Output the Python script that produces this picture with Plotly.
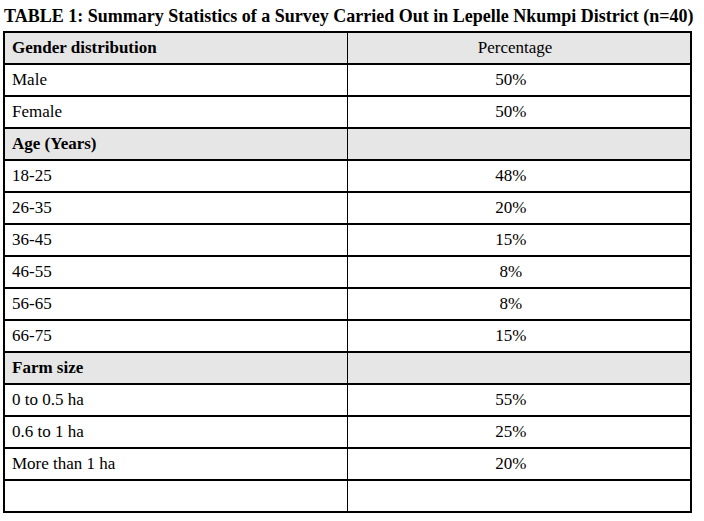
"""Survey summary table, Lepelle Nkumpi District."""

import plotly.graph_objects as go

TITLE = "TABLE 1: Summary Statistics of a Survey Carried Out in Lepelle Nkumpi District (n=40)"
HEADER = ["Gender distribution", "Percentage"]

# rows below the header; section rows have an empty percentage
row_labels = [
    "Male", "Female",
    "Age (Years)",
    "18-25", "26-35", "36-45", "46-55", "56-65", "66-75",
    "Farm size",
    "0 to 0.5 ha", "0.6 to 1 ha", "More than 1 ha",
    "",
]
row_values = [
    "50%", "50%",
    "",
    "48%", "20%", "15%", "8%", "8%", "15%",
    "",
    "55%", "25%", "20%",
    "",
]
section_rows = ["Age (Years)", "Farm size"]

GRAY = "#e6e6e6"
CLEAR = "rgba(0,0,0,0)"
FONT = "Liberation Serif"
W, H = 704, 521
DOMAIN = dict(x=[4 / W, 692 / W], y=[0, 1 - 32 / H])

# the percentages sit a little left of the column centre in the original
pad = "\u00a0" * 4
values_fmt = [v + pad if v else v for v in row_values]
fills = [GRAY if s in section_rows else "white" for s in row_labels]

# bold text is drawn by a second, transparent table on top: markup tags
# would make plotly grow those rows, and font weight is only per column
plain_labels = ["" if s in section_rows else s for s in row_labels]
bold_labels = [s if s in section_rows else "" for s in row_labels]
blank = [""] * len(row_labels)

fig = go.Figure()
fig.add_trace(
    go.Table(
        domain=DOMAIN,
        columnwidth=[344, 344],
        header=dict(
            values=["", HEADER[1] + "\u00a0\u00a0"],
            fill_color=GRAY,
            line=dict(color="black", width=1.3),
            align=["left", "center"],
            font=dict(family=FONT, size=17, color="black"),
            height=32,
        ),
        cells=dict(
            values=[plain_labels, values_fmt],
            fill_color=[fills, fills],
            line=dict(color="black", width=1.3),
            align=["left", "center"],
            font=dict(family=FONT, size=17, color="black"),
            height=32,
        ),
    )
)
fig.add_trace(
    go.Table(
        domain=DOMAIN,
        columnwidth=[344, 344],
        header=dict(
            values=[HEADER[0], ""],
            fill_color=CLEAR,
            line=dict(color=CLEAR, width=0),
            align="left",
            font=dict(family=FONT, size=17, color="black", weight="bold"),
            height=32,
        ),
        cells=dict(
            values=[bold_labels, blank],
            fill_color=CLEAR,
            line=dict(color=CLEAR, width=0),
            align="left",
            font=dict(family=FONT, size=17, color="black", weight="bold"),
            height=32,
        ),
    )
)

fig.update_layout(
    width=W,
    height=H,
    margin=dict(l=0, r=0, t=0, b=0),
    paper_bgcolor="white",
    title=dict(
        text=f"<b>{TITLE}</b>",
        x=4 / W,
        xanchor="left",
        xref="container",
        y=1 - 16 / H,
        yanchor="middle",
        yref="container",
        font=dict(family=FONT, size=18, color="black"),
    ),
)

# drop the browser's default 8px body margin so the figure fills the window
fig.write_html(
    "out.html",
    config={"displayModeBar": False},
    post_script="document.body.style.margin = '0';",
)
